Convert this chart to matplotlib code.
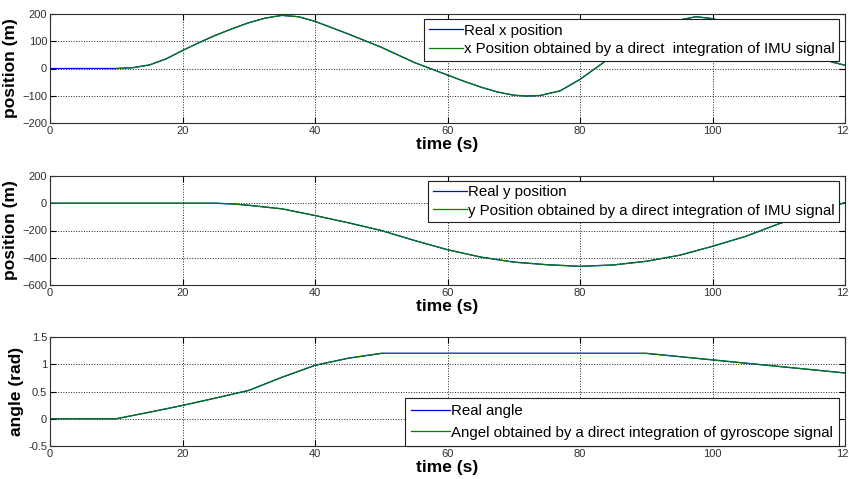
import matplotlib
matplotlib.use("Agg")
import matplotlib.pyplot as plt

plt.rcParams['font.family'] = ['Liberation Sans', 'DejaVu Sans']

# x position (m)
x_real_t = [0, 10, 12.5, 15, 17.5, 20, 22.5, 25, 27.5, 30, 32.5, 35, 37.5, 40, 45, 50, 55,
            60, 62.5, 65, 67.5, 70, 72, 74, 77, 80, 84, 88, 92, 95, 97.5, 100, 105, 110,
            115, 118, 120]
x_real = [0, 0, 3, 13, 35, 66, 95, 122, 146, 168, 185, 195, 190, 173, 127, 78, 22,
          -24, -47, -68, -86, -98, -101, -99, -82, -40, 30, 90, 145, 178, 190, 183, 150,
          105, 55, 24, 12]
x_imu_t = x_real_t[1:]
x_imu = x_real[1:]

# y position (m)
y_t = [0, 25, 27.5, 30, 35, 40, 45, 50, 55, 60, 65, 70, 75, 80, 85, 90, 95, 100, 105,
       110, 115, 120]
y_real = [0, 0, -5, -15, -41, -90, -143, -200, -273, -341, -395, -432, -451, -463, -453,
          -426, -382, -316, -243, -151, -70, 5]
y_imu = list(y_real)

# heading angle (rad)
a_t = [0, 10, 15, 20, 25, 30, 35, 40, 45, 50, 90, 100, 120]
a_real = [0, 0, 0.12, 0.244, 0.38, 0.52, 0.76, 0.98, 1.11, 1.2, 1.2, 1.08, 0.84]
a_imu = list(a_real)

x_ticks = [0, 20, 40, 60, 80, 100, 120]

BLUE = '#0000ff'
GREEN = '#008000'
TICK_COLOR = '#303030'

fig = plt.figure(figsize=(8.49, 4.79), dpi=100)
W = 795 / 849
H = 109 / 479
ax1 = fig.add_axes([50 / 849, (479 - 123) / 479, W, H])
ax2 = fig.add_axes([50 / 849, (479 - 285) / 479, W, H])
ax3 = fig.add_axes([50 / 849, (479 - 446) / 479, W, H])


def style(ax, yticks, ylim, ylabel, yticklabels=None):
    ax.set_xlim(0, 120)
    ax.set_ylim(*ylim)
    ax.set_xticks(x_ticks)
    ax.set_yticks(yticks)
    if yticklabels is not None:
        ax.set_yticklabels(yticklabels)
    ax.tick_params(direction='in', length=4, width=0.8, labelsize=8,
                   labelcolor=TICK_COLOR, top=True, right=True, pad=2)
    ax.grid(True, linestyle=':', color='#202020', linewidth=0.7)
    for s in ax.spines.values():
        s.set_color('#303030')
        s.set_linewidth(0.8)
    ax.set_xlabel('time (s)', fontsize=12.5, fontweight='bold', labelpad=1)
    ax.set_ylabel(ylabel, fontsize=12.5, fontweight='bold', labelpad=3)


leg_kw = dict(fontsize=10.8, frameon=True, fancybox=False, framealpha=1,
              edgecolor='#202020', handlelength=2.3, handletextpad=0.05,
              borderpad=0.3, labelspacing=0.3, borderaxespad=0)

# x position
ax1.plot(x_real_t, x_real, color=BLUE, lw=0.9, label='Real x position')
ax1.plot(x_imu_t, x_imu, color=GREEN, lw=0.9,
         label='x Position obtained by a direct  integration of IMU signal')
style(ax1, [-200, -100, 0, 100, 200], (-200, 200), 'position (m)')
lg = ax1.legend(loc='upper right', bbox_to_anchor=(0.9925, 0.954), **leg_kw)
lg.get_frame().set_linewidth(0.8)

# y position
ax2.plot(y_t, y_real, color=BLUE, lw=0.9, label='Real y position')
ax2.plot(y_t, y_imu, color=GREEN, lw=0.9,
         label='y Position obtained by a direct integration of IMU signal')
style(ax2, [-600, -400, -200, 0, 200], (-600, 200), 'position (m)')
lg = ax2.legend(loc='upper right', bbox_to_anchor=(0.9925, 0.957), **leg_kw)
lg.get_frame().set_linewidth(0.8)

# angle
ax3.plot(a_t, a_real, color=BLUE, lw=0.9, label='Real angle')
ax3.plot(a_t, a_imu, color=GREEN, lw=0.9,
         label='Angel obtained by a direct integration of gyroscope signal')
style(ax3, [-0.5, 0, 0.5, 1, 1.5], (-0.5, 1.5), 'angle (rad)',
      ['-0.5', '0', '0.5', '1', '1.5'])
leg3_kw = dict(leg_kw, labelspacing=0.5, borderpad=0.42, handlelength=2.6)
lg = ax3.legend(loc='lower right', bbox_to_anchor=(0.9925, 0.0), **leg3_kw)
lg.get_frame().set_linewidth(0.8)

fig.savefig('out.png', dpi=100)
